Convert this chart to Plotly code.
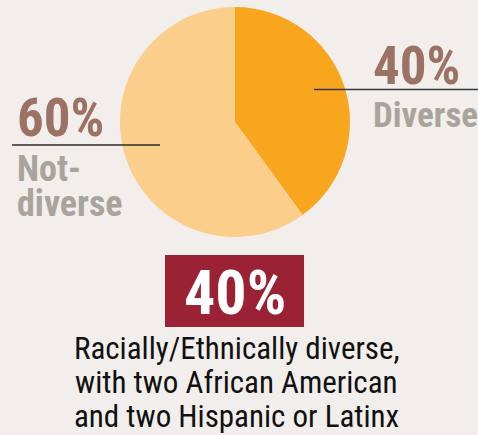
import plotly.graph_objects as go

labels = ["Diverse", "Not-diverse"]
values = [40, 60]
slice_colors = ["#F8A61E", "#FCCE8B"]
label_pct = ["40%", "60%"]
label_name_lines = [["Diverse"], ["Not-", "diverse"]]
headline = "40%"
caption_lines = [
    "Racially/Ethnically diverse,",
    "with two African American",
    "and two Hispanic or Latinx",
]

W, H = 478, 435
BOLD = "Roboto Condensed, DejaVu Sans Condensed, Liberation Sans Narrow, Roboto"
REG = "Roboto Condensed, DejaVu Sans Condensed, Liberation Sans Narrow, Roboto"


def px(x):
    return x / W


def py(y):
    return 1 - y / H


def tight(lines, size):
    # glyphs drawn at `size`, line spacing driven by the smaller base font
    return "<br>".join(f'<span style="font-size:{size}px">{t}</span>' for t in lines)


fig = go.Figure()
fig.add_trace(go.Pie(
    labels=labels,
    values=values,
    marker=dict(colors=slice_colors, line=dict(width=0)),
    sort=False,
    direction="clockwise",
    rotation=0,
    textinfo="none",
    hoverinfo="label+percent",
    showlegend=False,
    domain=dict(x=[px(120), px(350)], y=[py(237), py(7)]),
))

ann = []
# Right label
ann.append(dict(x=px(371), y=py(66), text=label_pct[0], xanchor="left", yanchor="middle",
                font=dict(family=BOLD, size=53, color="#9C7265", weight="bold")))
ann.append(dict(x=px(371), y=py(115), text=label_name_lines[0][0], xanchor="left", yanchor="middle",
                font=dict(family=BOLD, size=35, color="#A9A39C", weight="bold")))
# Left label
ann.append(dict(x=px(15), y=py(118), text=label_pct[1], xanchor="left", yanchor="middle",
                font=dict(family=BOLD, size=53, color="#9C7265", weight="bold")))
ann.append(dict(x=px(15), y=py(186.5), text=tight(label_name_lines[1], 36),
                xanchor="left", yanchor="middle", align="left",
                font=dict(family=BOLD, size=27, color="#A9A39C", weight="bold")))
# Headline in red box
ann.append(dict(x=px(235), y=py(292), text=headline, xanchor="center", yanchor="middle",
                font=dict(family=BOLD, size=62, color="#FFFFFF", weight="bold")))
# Caption
for i, line in enumerate(caption_lines):
    ann.append(dict(x=px(236.5), y=py(348 + i * 34), text=line, xanchor="center", yanchor="middle",
                    font=dict(family=REG, size=31, color="#111111")))

for a in ann:
    a.update(xref="paper", yref="paper", showarrow=False)

shapes = [
    dict(type="rect", xref="paper", yref="paper", x0=px(165), x1=px(304), y0=py(327), y1=py(255),
         fillcolor="#9B2235", line=dict(width=0), layer="below"),
    dict(type="line", xref="paper", yref="paper", x0=px(314), x1=px(478), y0=py(89.5), y1=py(89.5),
         line=dict(color="#3A3A3A", width=1.5), layer="above"),
    dict(type="line", xref="paper", yref="paper", x0=px(12), x1=px(160), y0=py(145), y1=py(145),
         line=dict(color="#2A2A2A", width=1.5), layer="above"),
]

fig.update_layout(
    width=W, height=H,
    margin=dict(l=0, r=0, t=0, b=0),
    paper_bgcolor="#F1EEEB",
    plot_bgcolor="#F1EEEB",
    annotations=ann,
    shapes=shapes,
)

fig.write_html("out.html")
